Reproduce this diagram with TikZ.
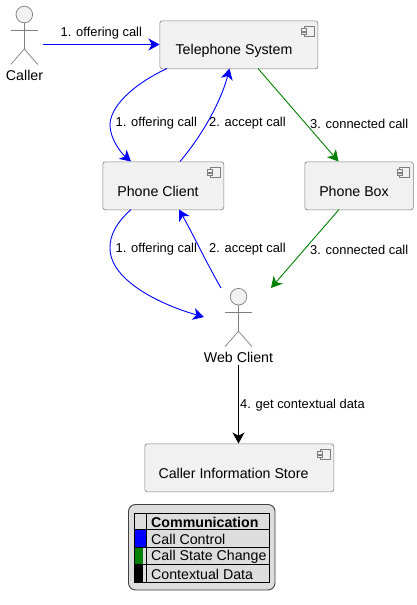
\documentclass[tikz,border=0pt]{standalone}
\usepackage{fontspec}
\setmainfont{Liberation Sans}
\usetikzlibrary{arrows.meta}
\definecolor{boxfill}{HTML}{F1F1F1}
\definecolor{boxline}{HTML}{7F7F7F}
\definecolor{legfill}{HTML}{DDDDDD}
\definecolor{dgreen}{HTML}{008000}
\definecolor{ablue}{HTML}{0000FF}
\newcommand{\complabel}{\fontsize{14.2}{16}\selectfont}
\newcommand{\edgelabel}{\fontsize{12.9}{15}\selectfont}
\newcommand{\leglabel}{\fontsize{14.2}{16}\selectfont}
\tikzset{
  x=1pt,y=-1pt,
  comp/.style={draw=boxline,fill=boxfill,line width=0.6pt,rounded corners=2.5pt,minimum height=48pt,inner sep=0pt,anchor=north west},
  iconline/.style={draw=boxline,fill=boxfill,line width=0.6pt},
  stick/.style={draw=boxline,line width=0.7pt},
  headc/.style={draw=boxline,fill=boxfill,line width=0.7pt},
  conn/.style={line width=0.9pt,-{Stealth[inset=3.2pt,length=11pt,width=12pt]}},
  elab/.style={font=\edgelabel,inner sep=0pt,text=black,anchor=west},
  ctext/.style={font=\complabel,inner sep=0pt,text=black},
  ltext/.style={font=\leglabel,inner sep=0pt,text=black,anchor=west},
  cpoint/.style={inner sep=0pt,minimum size=0pt}
}
\newcommand{\compicon}[2]{%
  \path[iconline] (#1-13.5,#2+6) rectangle (#1-3.5,#2+16);
  \path[iconline] (#1-16,#2+8) rectangle (#1-11,#2+10.5);
  \path[iconline] (#1-16,#2+11.5) rectangle (#1-11,#2+14);
}
\newcommand{\actorfig}[2]{%
  \draw[headc] (#1,#2) circle[radius=8.3];
  \draw[stick] (#1,#2+8.3) -- (#1,#2+34.5);
  \draw[stick] (#1-13.5,#2+15.5) -- (#1+13.5,#2+15.5);
  \draw[stick] (#1-13.5,#2+50) -- (#1,#2+34.5) -- (#1+13.5,#2+50);
}
\begin{document}
\begin{tikzpicture}
\useasboundingbox (0,0) rectangle (417,605);
\fill[white] (0,0) rectangle (417,605);
% boxes
\node[comp,minimum width=158pt] (ts) at (159.5,20.5) {};
\node[ctext] at (234,51) {Telephone System};
\compicon{317.5}{20.5}
\node[comp,minimum width=121pt] (pc) at (102.5,161.5) {};
\node[ctext] at (158,191.5) {Phone Client};
\compicon{223.5}{161.5}
\node[comp,minimum width=108.5pt] (pb) at (304.5,161.5) {};
\node[ctext] at (354,191.5) {Phone Box};
\compicon{413}{161.5}
\node[comp,minimum width=189pt] (cis) at (144.5,443.5) {};
\node[ctext] at (233.5,473.5) {Caller Information Store};
\compicon{333.5}{443.5}
% actors
\actorfig{24.3}{14.5}
\node[ctext] (caller) at (24.5,75) {Caller};
\actorfig{238.5}{296.7}
\node[ctext] (wc) at (238.5,357) {Web Client};
% anchor coordinates
\coordinate (callerout) at (43,44.5);
\coordinate (wctop) at (221,288);
\coordinate (wcleft) at (204,317);
\coordinate (wcright) at (271,288);
\coordinate (wcbottom) at (238.5,365);
% connectors
\draw[conn,ablue] (callerout) -- (ts.west |- callerout);
\draw[conn,ablue] (167,68.5)
  .. controls (130,86) and (110,108) .. (110,125)
  .. controls (110,138) and (120,152) .. (131,161.5);
\draw[conn,ablue] (180,161.5) .. controls (205,132) and (222,98) .. (229.5,68.5);
\draw[conn,dgreen] (258,68.5) -- (338.5,161.5);
\draw[conn,ablue] (131,209.5)
  .. controls (115,224) and (110,236) .. (110,248)
  .. controls (110,282) and (165,306) .. (wcleft);
\draw[conn,ablue] (wctop) .. controls (206,262) and (194,236) .. (179,209.5);
\draw[conn,dgreen] (339,209.5) -- (wcright);
\draw[conn,black] (wcbottom) -- (238.5,443.5);
% edge labels
\node[elab] at (60.5,33.5) {1. offering call};
\node[elab] at (115.5,123.5) {1. offering call};
\node[elab] at (209,123.5) {2. accept call};
\node[elab] at (310,123.5) {3. connected call};
\node[elab] at (115.5,249.5) {1. offering call};
\node[elab] at (209,249.5) {2. accept call};
\node[elab] at (310,249.5) {3. connected call};
\node[elab] at (240,405.5) {4. get contextual data};
% legend
\draw[fill=legfill,draw=black!75,line width=0.9pt,rounded corners=7pt] (128.5,504.5) rectangle (275,590);
\fill[ablue] (135,529) rectangle (146,546.5);
\fill[dgreen] (135,547) rectangle (142.7,564.5);
\fill[black] (135,564.5) rectangle (142.7,582);
\draw[black,line width=0.8pt] (134.5,513) rectangle (269.5,582);
\draw[black,line width=0.8pt] (146,513) -- (146,582);
\draw[black,line width=0.8pt] (134.5,529.5) -- (269.5,529.5);
\draw[black,line width=0.8pt] (134.5,547) -- (269.5,547);
\draw[black,line width=0.8pt] (134.5,564.5) -- (269.5,564.5);
\node[ltext,font=\leglabel\bfseries] at (151,522) {Communication};
\node[ltext] at (151,539) {Call Control};
\node[ltext] at (151,556.5) {Call State Change};
\node[ltext] at (151,574) {Contextual Data};
\end{tikzpicture}
\end{document}
